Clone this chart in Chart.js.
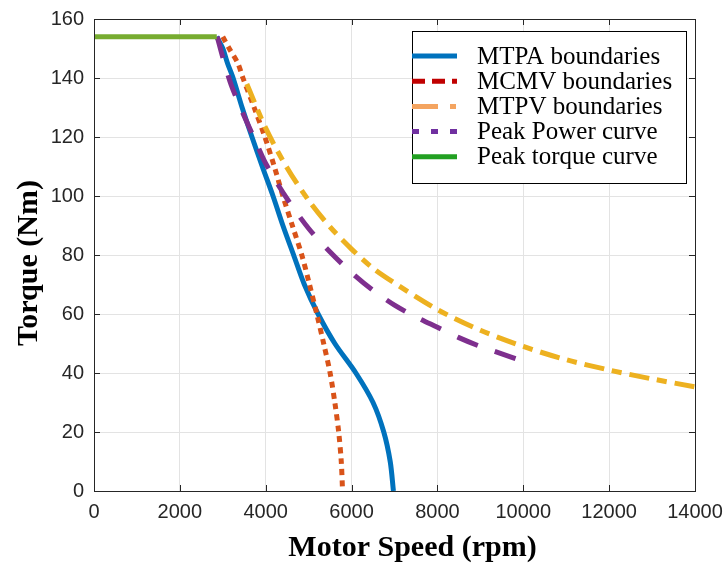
<!DOCTYPE html>
<html>
<head>
<meta charset="utf-8">
<script src="https://cdn.jsdelivr.net/npm/chart.js@4.4.1/dist/chart.umd.min.js"></script>
<style>
  html, body { margin: 0; padding: 0; background: #fff; }
  #wrap { width: 728px; height: 565px; }
</style>
</head>
<body>
<div id="wrap"><canvas id="torqueChart" width="728" height="565"></canvas></div>
<script>
// Valeurs (vitesse en rpm, couple en Nm)
const mtpaSpeed  = [2860, 3000, 3110, 3240, 3450, 3680, 3920, 4170, 4400, 4650, 4900, 5220, 5610, 6100, 6500, 6750, 6900, 6975];
const mtpaTorque = [154, 150, 145, 140, 130, 120, 110, 100, 90, 80, 70, 60, 50, 40, 30, 20, 10, 0];

const mcmvSpeed  = [3000, 3150, 3350, 3470, 3730, 3980, 4200, 4400, 4620, 4840, 5020, 5190, 5350, 5500, 5610, 5700, 5760, 5790];
const mcmvTorque = [154, 150, 145, 140, 130, 120, 110, 100, 90, 80, 70, 60, 50, 40, 30, 20, 10, 0];

const mtpvSpeed  = [3560, 4000, 4500, 5000, 5500, 6000, 6500, 7000, 8000, 9000, 10000, 11000, 12000, 13000, 14000];
const mtpvTorque = [138, 123, 109.5, 98.5, 89.5, 82, 75.5, 70.5, 61.5, 54.5, 49, 44.5, 41, 38, 35.3];

const powerSpeed  = [2870, 3000, 3200, 3500, 3750, 4000, 4500, 5000, 5500, 6000, 6500, 7000, 7500, 8000, 8500, 9000, 9500, 10000];
const powerTorque = [154, 147, 137.5, 127, 119, 111, 99, 89, 81, 74, 68, 63, 59, 55.5, 52, 49, 46.5, 44];

const peakSpeed  = [0, 2860];
const peakTorque = [154, 154];

const seriesLabels = ['MTPA boundaries', 'MCMV boundaries', 'MTPV boundaries', 'Peak Power curve', 'Peak torque curve'];
const lineColors   = ['#0072BD', '#D95319', '#EDB120', '#7E2F8E', '#77AC30'];
const legendColors = ['#0072BD', '#C00000', '#F4A460', '#7030A0', '#22A022'];
const lineDashes   = [[], [6, 5], [20, 8, 10, 8], [22, 18], []];
const legendDashes = [[], [13, 7], [26, 12, 6, 12], [7, 12], []];

const speedTicks = [0, 2000, 4000, 6000, 8000, 10000, 12000, 14000];
const torqueTicks = [0, 20, 40, 60, 80, 100, 120, 140, 160];

const xTitle = 'Motor Speed (rpm)';
const yTitle = 'Torque (Nm)';

const AXIS_COLOR = '#262626';
const SERIF = "'Liberation Serif', 'Times New Roman', serif";
const SANS = "'Liberation Sans', Arial, sans-serif";

function pairs(xs, ys) {
    return xs.map((x, i) => ({ x: x, y: ys[i] }));
}

// Cadre complet + graduations tournées vers l'intérieur (style MATLAB)
const boxPlugin = {
    id: 'boxTicks',
    afterDatasetsDraw(chart) {
        const { ctx, chartArea: a, scales: { x, y } } = chart;
        const len = 6;
        ctx.save();
        ctx.strokeStyle = AXIS_COLOR;
        ctx.lineWidth = 1;
        ctx.beginPath();
        speedTicks.forEach(v => {
            const px = Math.round(x.getPixelForValue(v)) + 0.5;
            ctx.moveTo(px, a.bottom); ctx.lineTo(px, a.bottom - len);
            ctx.moveTo(px, a.top); ctx.lineTo(px, a.top + len);
        });
        torqueTicks.forEach(v => {
            const py = Math.round(y.getPixelForValue(v)) + 0.5;
            ctx.moveTo(a.left, py); ctx.lineTo(a.left + len, py);
            ctx.moveTo(a.right, py); ctx.lineTo(a.right - len, py);
        });
        ctx.stroke();
        ctx.strokeRect(Math.round(a.left) + 0.5, Math.round(a.top) + 0.5,
                       Math.round(a.right - a.left), Math.round(a.bottom - a.top));
        ctx.restore();
    }
};

// Titres des axes (placés comme sur la figure, un peu décalés du centre)
const titlePlugin = {
    id: 'axisTitles',
    afterDraw(chart) {
        const { ctx, chartArea: a } = chart;
        ctx.save();
        ctx.fillStyle = '#000';
        ctx.font = 'bold 30px ' + SERIF;
        ctx.textAlign = 'center';
        ctx.textBaseline = 'middle';
        ctx.fillText(xTitle, (a.left + a.right) / 2 + 18, 548);
        ctx.translate(29, (a.top + a.bottom) / 2 + 8);
        ctx.rotate(-Math.PI / 2);
        ctx.fillText(yTitle, 0, 0);
        ctx.restore();
    }
};

// Légende encadrée dans le coin supérieur droit
const legendPlugin = {
    id: 'boxLegend',
    afterDraw(chart) {
        const { ctx } = chart;
        const bx = 412, by = 31, bw = 274, bh = 152;
        ctx.save();
        ctx.fillStyle = '#fff';
        ctx.fillRect(bx, by, bw, bh);
        ctx.strokeStyle = '#000';
        ctx.lineWidth = 1;
        ctx.strokeRect(bx + 0.5, by + 0.5, bw, bh);
        ctx.font = '25px ' + SERIF;
        ctx.textBaseline = 'middle';
        seriesLabels.forEach((label, i) => {
            const ry = 56 + i * 25.2;
            ctx.beginPath();
            ctx.setLineDash(legendDashes[i]);
            ctx.lineCap = 'butt';
            ctx.lineWidth = 5;
            ctx.strokeStyle = legendColors[i];
            ctx.moveTo(bx, ry);
            ctx.lineTo(bx + 45, ry);
            ctx.stroke();
            ctx.setLineDash([]);
            ctx.fillStyle = '#000';
            ctx.fillText(label, 477, ry + 1);
        });
        ctx.restore();
    }
};

const seriesData = [
    pairs(mtpaSpeed, mtpaTorque),
    pairs(mcmvSpeed, mcmvTorque),
    pairs(mtpvSpeed, mtpvTorque),
    pairs(powerSpeed, powerTorque),
    pairs(peakSpeed, peakTorque)
];

new Chart(document.getElementById('torqueChart'), {
    type: 'line',
    data: {
        datasets: seriesData.map((d, i) => ({
            label: seriesLabels[i],
            data: d,
            borderColor: lineColors[i],
            backgroundColor: lineColors[i],
            borderWidth: 5,
            borderDash: lineDashes[i],
            borderCapStyle: 'butt',
            pointRadius: 0,
            tension: 0.3,
            fill: false,
            order: seriesLabels.length - i
        }))
    },
    options: {
        responsive: false,
        animation: false,
        devicePixelRatio: 1,
        layout: { padding: { top: 19, right: 33, left: 0, bottom: 0 } },
        plugins: {
            legend: { display: false },
            tooltip: { enabled: false }
        },
        scales: {
            x: {
                type: 'linear',
                min: 0,
                max: 14000,
                afterBuildTicks: s => { s.ticks = speedTicks.map(v => ({ value: v })); },
                afterFit: s => { s.height = 74; s.paddingLeft = 0; s.paddingRight = 0; },
                grid: { color: '#e3e3e3', drawTicks: false },
                border: { display: true, color: AXIS_COLOR },
                ticks: {
                    color: AXIS_COLOR, font: { family: SANS, size: 20 }, padding: 9, maxRotation: 0,
                    callback: v => String(v)
                }
            },
            y: {
                type: 'linear',
                min: 0,
                max: 160,
                afterBuildTicks: s => { s.ticks = torqueTicks.map(v => ({ value: v })); },
                afterFit: s => { s.width = 94; s.paddingTop = 0; s.paddingBottom = 0; },
                grid: { color: '#e3e3e3', drawTicks: false },
                border: { display: true, color: AXIS_COLOR },
                ticks: {
                    color: AXIS_COLOR, font: { family: SANS, size: 20 }, padding: 10,
                    callback: v => String(v)
                }
            }
        }
    },
    plugins: [boxPlugin, titlePlugin, legendPlugin]
});
</script>
</body>
</html>
